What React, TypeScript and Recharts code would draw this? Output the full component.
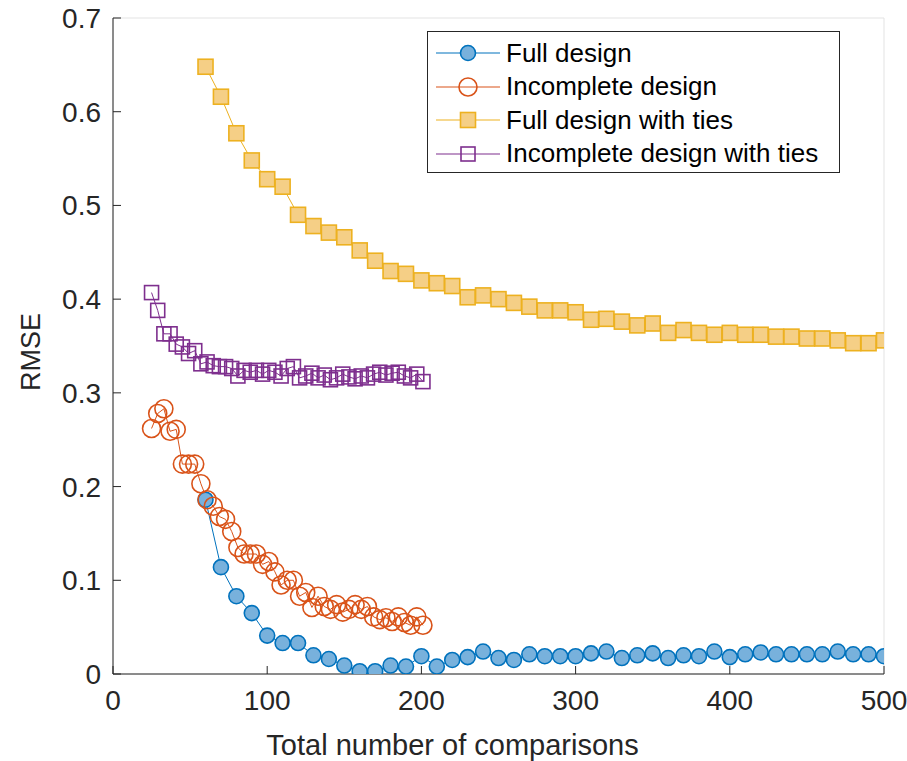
import React from 'react';
import { LineChart, Line, XAxis, YAxis, CartesianGrid } from 'recharts';

const fullX = [60, 70, 80, 90, 100, 110, 120, 130, 140, 150, 160, 170, 180, 190, 200, 210, 220, 230, 240, 250, 260, 270, 280, 290, 300, 310, 320, 330, 340, 350, 360, 370, 380, 390, 400, 410, 420, 430, 440, 450, 460, 470, 480, 490, 500];
const fullDesign = [0.186, 0.114, 0.083, 0.065, 0.041, 0.033, 0.033, 0.020, 0.016, 0.009, 0.003, 0.003, 0.009, 0.008, 0.019, 0.008, 0.015, 0.018, 0.024, 0.017, 0.015, 0.021, 0.019, 0.019, 0.019, 0.022, 0.024, 0.017, 0.020, 0.022, 0.017, 0.020, 0.019, 0.024, 0.018, 0.021, 0.023, 0.021, 0.021, 0.021, 0.021, 0.024, 0.021, 0.021, 0.019];
const fullTies = [0.648, 0.616, 0.577, 0.548, 0.528, 0.520, 0.490, 0.478, 0.471, 0.466, 0.452, 0.441, 0.430, 0.427, 0.420, 0.417, 0.414, 0.402, 0.404, 0.400, 0.396, 0.392, 0.388, 0.388, 0.386, 0.378, 0.379, 0.376, 0.372, 0.374, 0.364, 0.367, 0.364, 0.362, 0.364, 0.362, 0.362, 0.360, 0.360, 0.358, 0.358, 0.356, 0.353, 0.353, 0.356];

const incX = [25, 29, 33, 37, 41, 45, 49, 53, 57, 61, 65, 69, 73, 77, 81, 85, 89, 93, 97, 101, 105, 109, 113, 117, 121, 125, 129, 133, 137, 141, 145, 149, 153, 157, 161, 165, 169, 173, 177, 181, 185, 189, 193, 197, 201];
const incDesign = [0.262, 0.278, 0.283, 0.259, 0.261, 0.224, 0.224, 0.224, 0.203, 0.186, 0.179, 0.168, 0.165, 0.152, 0.135, 0.128, 0.128, 0.128, 0.117, 0.120, 0.109, 0.095, 0.100, 0.100, 0.083, 0.087, 0.071, 0.083, 0.072, 0.069, 0.074, 0.066, 0.069, 0.074, 0.069, 0.072, 0.061, 0.058, 0.060, 0.056, 0.061, 0.055, 0.052, 0.061, 0.052];
const incTies = [0.407, 0.388, 0.363, 0.363, 0.352, 0.349, 0.342, 0.345, 0.331, 0.333, 0.329, 0.328, 0.328, 0.326, 0.318, 0.324, 0.322, 0.324, 0.320, 0.324, 0.322, 0.318, 0.326, 0.328, 0.316, 0.318, 0.321, 0.316, 0.319, 0.314, 0.316, 0.320, 0.317, 0.315, 0.318, 0.316, 0.320, 0.322, 0.319, 0.321, 0.322, 0.318, 0.316, 0.320, 0.312];

const xTicks = [0, 100, 200, 300, 400, 500];
const yTicks = [0, 0.1, 0.2, 0.3, 0.4, 0.5, 0.6, 0.7];

const names = ['Full design', 'Incomplete design', 'Full design with ties', 'Incomplete design with ties'];

const fullData = fullX.map((x, i) => ({ x, design: fullDesign[i], ties: fullTies[i] }));
const incData = incX.map((x, i) => ({ x, design: incDesign[i], ties: incTies[i] }));

const AXIS = '#262626';
const FONT = '"Liberation Sans", Arial, Helvetica, sans-serif';
const BLUE = '#0072BD';
const ORANGE = '#D95319';
const YELLOW = '#EDB120';
const PURPLE = '#7E2F8E';

const marker = (kind: number, cx: number, cy: number, key?: any) => {
  if (kind === 0) return <circle key={key} cx={cx} cy={cy} r={7.5} fill="#78b1dc" stroke={BLUE} strokeWidth={1.6} />;
  if (kind === 1) return <circle key={key} cx={cx} cy={cy} r={9} fill="none" stroke={ORANGE} strokeWidth={1.6} />;
  if (kind === 2) return <rect key={key} x={cx - 7.5} y={cy - 7.5} width={15} height={15} fill="#f5cf86" stroke={YELLOW} strokeWidth={1.6} />;
  return <rect key={key} x={cx - 7} y={cy - 7} width={14} height={14} fill="none" stroke={PURPLE} strokeWidth={1.6} />;
};

const dotFor = (kind: number) => (p: any) => marker(kind, p.cx, p.cy, p.index);

const BottomTick = ({ x, y, payload }: any) => (
  <g>
    <line x1={x} x2={x} y1={y} y2={y - 8} stroke={AXIS} strokeWidth={1} />
    <text x={x} y={y + 36} textAnchor="middle" fill={AXIS} fontSize={28} fontFamily={FONT}>{payload.value}</text>
  </g>
);

const LeftTick = ({ x, y, payload }: any) => (
  <g>
    <line x1={x} x2={x + 8} y1={y} y2={y} stroke={AXIS} strokeWidth={1} />
    <text x={x - 12} y={y + 10} textAnchor="end" fill={AXIS} fontSize={28} fontFamily={FONT}>
      {payload.value === 0 ? '0' : Number(payload.value).toFixed(1)}
    </text>
  </g>
);

const TopTick = ({ x, y }: any) => <line x1={x} x2={x} y1={y} y2={y + 8} stroke={AXIS} strokeWidth={1} />;
const RightTick = ({ x, y }: any) => <line x1={x} x2={x - 8} y1={y} y2={y} stroke={AXIS} strokeWidth={1} />;

const YLabel = () => (
  <text x={40} y={352} transform="rotate(-90, 40, 352)" textAnchor="middle" fill={AXIS} fontSize={27} fontFamily={FONT}>RMSE</text>
);

const colors = [BLUE, ORANGE, YELLOW, PURPLE];

export default function App() {
  return (
    <div style={{ position: 'absolute', left: 0, top: 0, width: 907, height: 761, background: '#fff' }}>
      <LineChart width={907} height={761} margin={{ top: 18, right: 23, bottom: 37, left: 53 }}>
        <CartesianGrid stroke="#e3e3e3" strokeWidth={1} />
        <XAxis xAxisId="b" type="number" dataKey="x" domain={[0, 500]} ticks={xTicks} height={50}
          stroke={AXIS} tickLine={false} tickSize={0} tickMargin={0} tick={<BottomTick />} allowDataOverflow
          label={{ value: 'Total number of comparisons', position: 'insideBottom', dx: -46, dy: 36, fill: AXIS, fontSize: 29, fontFamily: FONT }} />
        <XAxis xAxisId="t" orientation="top" type="number" dataKey="x" domain={[0, 500]} ticks={xTicks} height={0}
          stroke={AXIS} tickLine={false} tickSize={0} tickMargin={0} tick={<TopTick />} allowDataOverflow />
        <YAxis yAxisId="l" type="number" domain={[0, 0.7]} ticks={yTicks} width={60}
          stroke={AXIS} tickLine={false} tickSize={0} tickMargin={0} tick={<LeftTick />} allowDataOverflow
          label={<YLabel />} />
        <YAxis yAxisId="r" orientation="right" type="number" domain={[0, 0.7]} ticks={yTicks} width={0}
          stroke={AXIS} tickLine={false} tickSize={0} tickMargin={0} tick={<RightTick />} allowDataOverflow />
        <Line xAxisId="b" yAxisId="l" data={fullData} dataKey="design" name={names[0]} stroke={BLUE} strokeWidth={1}
          dot={dotFor(0)} isAnimationActive={false} />
        <Line xAxisId="b" yAxisId="l" data={incData} dataKey="design" name={names[1]} stroke={ORANGE} strokeWidth={1}
          dot={dotFor(1)} isAnimationActive={false} />
        <Line xAxisId="b" yAxisId="l" data={fullData} dataKey="ties" name={names[2]} stroke={YELLOW} strokeWidth={1}
          dot={dotFor(2)} isAnimationActive={false} />
        <Line xAxisId="b" yAxisId="l" data={incData} dataKey="ties" name={names[3]} stroke={PURPLE} strokeWidth={1}
          dot={dotFor(3)} isAnimationActive={false} />
      </LineChart>
      <div style={{ position: 'absolute', left: 427, top: 31, width: 413, height: 142, border: `1.5px solid ${AXIS}`, background: '#fff', boxSizing: 'border-box' }}>
        {names.map((n, i) => (
          <div key={n} style={{ position: 'absolute', left: 0, top: 4 + i * 33.5, height: 34, display: 'flex', alignItems: 'center' }}>
            <svg width={78} height={34} style={{ display: 'block' }}>
              <line x1={8} x2={72} y1={17} y2={17} stroke={colors[i]} strokeWidth={1.2} />
              {marker(i, 40, 17)}
            </svg>
            <span style={{ fontFamily: FONT, fontSize: 26, color: '#000', whiteSpace: 'nowrap' }}>{n}</span>
          </div>
        ))}
      </div>
    </div>
  );
}
